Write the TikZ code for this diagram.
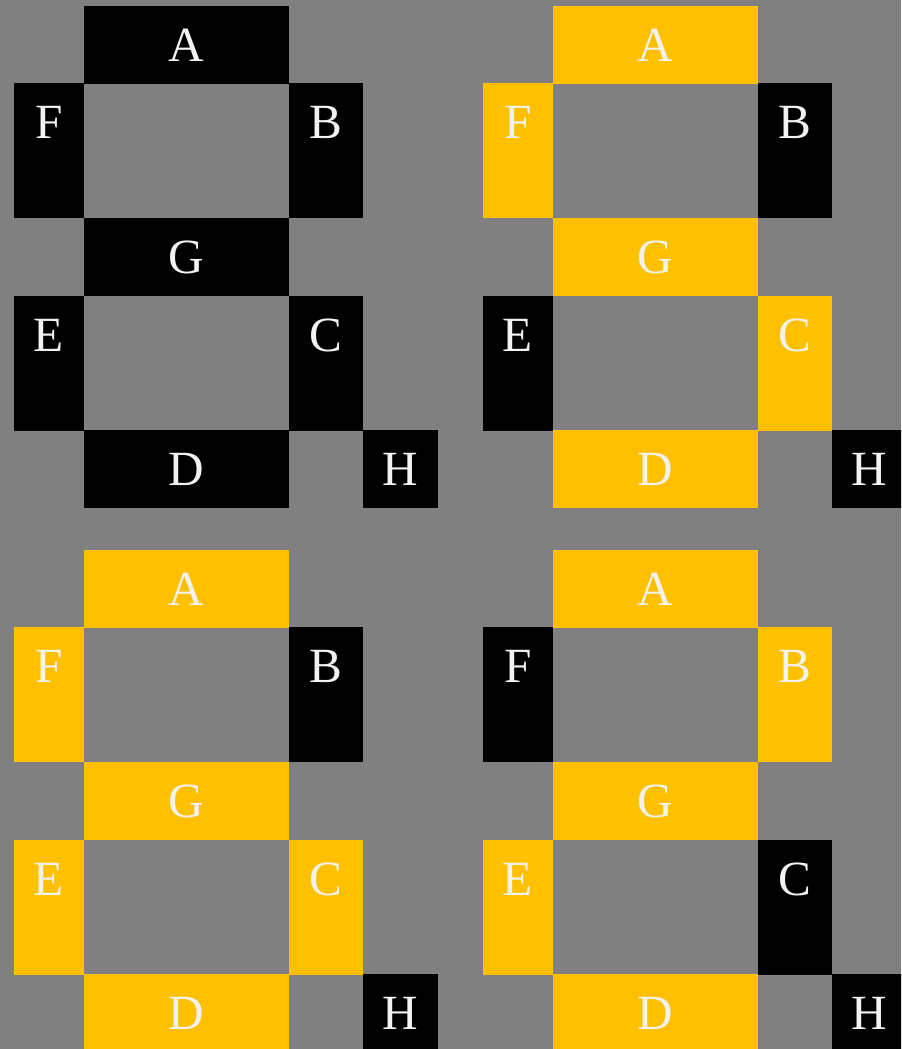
\documentclass[tikz,border=0pt]{standalone}
\usepackage{fontspec}
\setmainfont{Liberation Serif}
\usepackage{xcolor}
\usepackage{tikz}
\definecolor{segon}{HTML}{FFC000}
\definecolor{bggray}{HTML}{808080}
\definecolor{lbltext}{HTML}{F2F2F2}

\begin{document}
\begin{tikzpicture}[
  x=0.025cm, y=-0.025cm,
  seg/.style={anchor=north west, inner sep=0pt, outer sep=0pt, text=lbltext,
    font=\fontsize{35}{40}\selectfont, text height=0.825cm, text depth=0pt},
  hseg/.style={seg, minimum width=5.125cm, minimum height=1.95cm},
  lseg/.style={seg, minimum width=1.75cm, minimum height=3.375cm, text depth=1.45cm},
  rseg/.style={lseg, minimum width=1.85cm},
  dotseg/.style={seg, minimum width=1.875cm, minimum height=1.95cm},
  on/.style={fill=segon},
  off/.style={fill=black}
]
\useasboundingbox (0,0) rectangle (901,1049);
\fill[bggray] (0,0) rectangle (901,1049);
\clip (0,0) rectangle (901,1049);

% all segments off
\node[hseg, off] (a1) at (84,6) {A};
\node[lseg, off] (f1) at (14,83) {F};
\node[rseg, off] (b1) at (289,83) {B};
\node[hseg, off] (g1) at (84,218) {G};
\node[lseg, off] (e1) at (14,296) {E};
\node[rseg, off] (c1) at (289,296) {C};
\node[hseg, off] (d1) at (84,430) {D};
\node[dotseg, off] (h1) at (363,430) {H};

% digit 5
\begin{scope}[shift={(469,0)}]
\node[hseg, on] (a2) at (84,6) {A};
\node[lseg, on] (f2) at (14,83) {F};
\node[rseg, off] (b2) at (289,83) {B};
\node[hseg, on] (g2) at (84,218) {G};
\node[lseg, off] (e2) at (14,296) {E};
\node[rseg, on] (c2) at (289,296) {C};
\node[hseg, on] (d2) at (84,430) {D};
\node[dotseg, off] (h2) at (363,430) {H};
\end{scope}

% digit 6
\begin{scope}[shift={(0,544)}]
\node[hseg, on] (a3) at (84,6) {A};
\node[lseg, on] (f3) at (14,83) {F};
\node[rseg, off] (b3) at (289,83) {B};
\node[hseg, on] (g3) at (84,218) {G};
\node[lseg, on] (e3) at (14,296) {E};
\node[rseg, on] (c3) at (289,296) {C};
\node[hseg, on] (d3) at (84,430) {D};
\node[dotseg, off] (h3) at (363,430) {H};
\end{scope}

% digit 2
\begin{scope}[shift={(469,544)}]
\node[hseg, on] (a4) at (84,6) {A};
\node[lseg, off] (f4) at (14,83) {F};
\node[rseg, on] (b4) at (289,83) {B};
\node[hseg, on] (g4) at (84,218) {G};
\node[lseg, on] (e4) at (14,296) {E};
\node[rseg, off] (c4) at (289,296) {C};
\node[hseg, on] (d4) at (84,430) {D};
\node[dotseg, off] (h4) at (363,430) {H};
\end{scope}
\end{tikzpicture}
\end{document}
